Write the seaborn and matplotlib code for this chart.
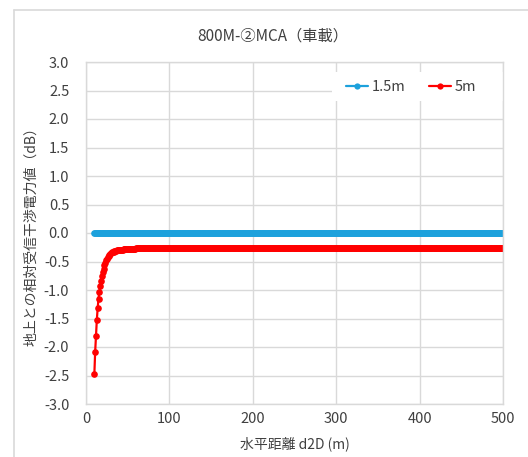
import numpy as np
import pandas as pd
import matplotlib
matplotlib.use("Agg")
import matplotlib.pyplot as plt
from matplotlib.lines import Line2D
from matplotlib.patches import Rectangle
from matplotlib.ticker import FormatStrFormatter, MultipleLocator
import seaborn as sns

# Horizontal distance (m), 1 m steps
distance_m = np.arange(10, 501)

# Relative interference power vs. ground level (dB)
rel_1_5m = [0.0] * len(distance_m)

rel_5m_near = [
    -2.48, -2.08, -1.80, -1.52, -1.32, -1.15, -1.03, -0.93, -0.84, -0.76,   # 10-19
    -0.69, -0.63, -0.57, -0.52, -0.48, -0.45, -0.42, -0.40, -0.38, -0.36,   # 20-29
    -0.35, -0.34, -0.33, -0.325, -0.32, -0.315, -0.31, -0.305, -0.30, -0.30, # 30-39
    -0.295, -0.295, -0.29, -0.29, -0.29, -0.285, -0.285, -0.285, -0.28, -0.28,  # 40-49
    -0.28, -0.28, -0.28, -0.28, -0.275, -0.275, -0.275, -0.275, -0.275, -0.275,  # 50-59
    -0.27,  # 60
]
rel_5m = rel_5m_near + [-0.27] * (len(distance_m) - len(rel_5m_near))

series_names = ["1.5m", "5m"]
series_colors = ["#1CA1DC", "#FF0000"]

title_text = "800M-②MCA（車載）"
xlabel_text = "水平距離 d2D (m)"
ylabel_text = "地上との相対受信干渉電力値（dB）"

df = pd.DataFrame({
    "d": np.concatenate([distance_m, distance_m]),
    "value": np.concatenate([rel_1_5m, rel_5m]),
    "series": [series_names[0]] * len(distance_m) + [series_names[1]] * len(distance_m),
})

sns.set_theme(style="white")
plt.rcParams["font.family"] = ["Noto Sans CJK JP", "DejaVu Sans"]
plt.rcParams["axes.unicode_minus"] = False

text_color = "#404040"
grid_color = "#D9D9D9"

W, H = 528, 457
fig = plt.figure(figsize=(W / 100, H / 100), dpi=100)
fig.patch.set_facecolor("white")

left, right, top, bottom = 86, 503, 62, 404
ax = fig.add_axes([left / W, 1 - bottom / H, (right - left) / W, (bottom - top) / H])

sns.lineplot(
    data=df, x="d", y="value", hue="series",
    palette=dict(zip(series_names, series_colors)),
    marker="o", markersize=4.8, markeredgewidth=0,
    linewidth=1.6, ax=ax, legend=False, sort=False,
)

ax.set_xlim(0, 500)
ax.set_ylim(-3.0, 3.0)
ax.xaxis.set_major_locator(MultipleLocator(100))
ax.yaxis.set_major_locator(MultipleLocator(0.5))
ax.yaxis.set_major_formatter(FormatStrFormatter("%.1f"))
ax.grid(True, color=grid_color, linewidth=1.0)
ax.set_axisbelow(True)
for sp in ax.spines.values():
    sp.set_visible(True)
    sp.set_color(grid_color)
    sp.set_linewidth(1.0)
ax.tick_params(axis="both", length=0, labelsize=10.5, colors=text_color)
ax.tick_params(axis="x", pad=6)
ax.tick_params(axis="y", pad=12)

ax.set_xlabel(xlabel_text, fontsize=10, color=text_color, labelpad=7)
ax.set_ylabel(ylabel_text, fontsize=10, color=text_color, labelpad=4)

fig.text(273 / W, 1 - 36 / H, title_text, ha="center", va="center",
         fontsize=11, color=text_color)

# White backing behind the legend, covering the gridlines
to_axes = lambda px, py: ((px - left) / (right - left), (bottom - py) / (bottom - top))
x0, y0 = to_axes(332, 101)
x1, y1 = to_axes(503, 72)
ax.add_patch(Rectangle((x0, y0), x1 - x0, y1 - y0, transform=ax.transAxes,
                       facecolor="white", edgecolor="none", zorder=1))

handles = [
    Line2D([0], [0], color=c, marker="o", markersize=4.5, markeredgewidth=0, linewidth=1.6)
    for c in series_colors
]
lx, ly = to_axes(476, 87)
leg = ax.legend(handles, series_names, loc="center right", ncol=2, frameon=False,
                fontsize=10.5, handlelength=1.5, handletextpad=0.25, columnspacing=1.6,
                bbox_to_anchor=(lx, ly), borderaxespad=0.0, borderpad=0.0)
for t in leg.get_texts():
    t.set_color(text_color)

# Chart area border (left and top edges)
fig.add_artist(Line2D([14 / W, 14 / W], [0, 1 - 10 / H], transform=fig.transFigure,
                      color=grid_color, linewidth=1.2))
fig.add_artist(Line2D([14 / W, 1], [1 - 10 / H, 1 - 10 / H], transform=fig.transFigure,
                      color=grid_color, linewidth=1.2))

fig.savefig("out.png", dpi=100, facecolor="white")
